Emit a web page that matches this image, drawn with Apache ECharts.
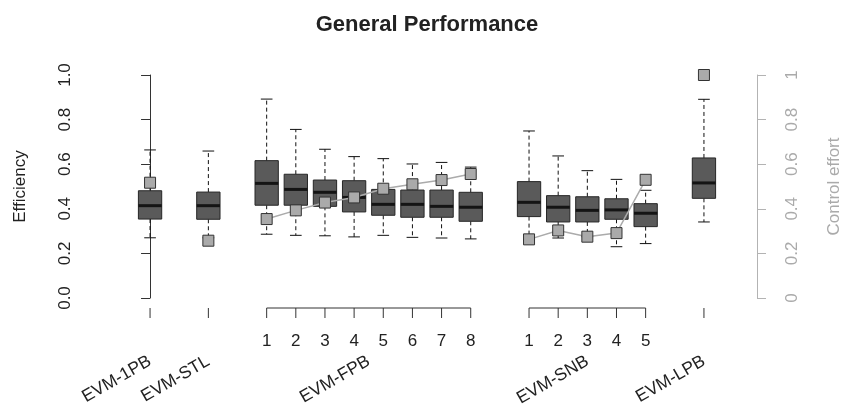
<!DOCTYPE html>
<html>
<head>
<meta charset="utf-8">
<script src="https://cdn.jsdelivr.net/npm/echarts@6/dist/echarts.min.js"></script>
<style>
html, body { margin: 0; padding: 0; background: #fff; }
#chart { width: 841px; height: 408px; }
</style>
</head>
<body>
<div id="chart"></div>
<script>
// groups, and how many boxes each one holds
const groupNames = ['EVM-1PB', 'EVM-STL', 'EVM-FPB', 'EVM-SNB', 'EVM-LPB']
const groupSizes = [1, 1, 8, 5, 1]

// box stats, one entry per box (1PB, STL, FPB1..8, SNB1..5, LPB)
const whiskerLow  = [0.270, 0.270, 0.286, 0.281, 0.279, 0.274, 0.281, 0.272, 0.269, 0.265, 0.260, 0.269, 0.275, 0.230, 0.244, 0.341]
const q1          = [0.354, 0.353, 0.416, 0.416, 0.411, 0.386, 0.371, 0.362, 0.362, 0.344, 0.365, 0.341, 0.341, 0.353, 0.320, 0.447]
const median      = [0.414, 0.414, 0.514, 0.487, 0.474, 0.451, 0.420, 0.420, 0.411, 0.407, 0.429, 0.407, 0.393, 0.395, 0.380, 0.516]
const q3          = [0.481, 0.475, 0.616, 0.555, 0.529, 0.526, 0.487, 0.484, 0.484, 0.474, 0.522, 0.459, 0.454, 0.445, 0.423, 0.628]
const whiskerHigh = [0.664, 0.659, 0.892, 0.756, 0.667, 0.634, 0.625, 0.601, 0.608, 0.587, 0.749, 0.637, 0.571, 0.532, 0.483, 0.891]

// control effort (right axis), one per box
const controlEffort = [0.517, 0.257, 0.354, 0.393, 0.428, 0.451, 0.490, 0.510, 0.529, 0.556, 0.263, 0.303, 0.275, 0.291, 0.530, 1.0]

const font = 'Liberation Sans, Arial, sans-serif'
const fs = 17

// lay the groups out one after another, one empty slot between groups
const slotOf = []
const groupSlots = []
let s = 0
groupSizes.forEach(n => {
    const g = []
    for (let i = 0; i < n; i++) { g.push(s); slotOf.push(s); s++ }
    groupSlots.push(g)
    s++
})
const lastSlot = slotOf[slotOf.length - 1]

const boxData = slotOf.map((x, i) => [x, whiskerLow[i], q1[i], median[i], q3[i], whiskerHigh[i]])
const effortData = slotOf.map((x, i) => [x, controlEffort[i]])

//箱线
function renderBox(params, api) {
    const x = api.value(0)
    const low = api.coord([x, api.value(1)])
    const b = api.coord([x, api.value(2)])
    const m = api.coord([x, api.value(3)])
    const t = api.coord([x, api.value(4)])
    const high = api.coord([x, api.value(5)])
    const w = api.size([0.8, 0])[0]
    const cx = low[0]
    const dash = { stroke: '#111', lineWidth: 1, lineDash: [4, 3] }
    const solid = { stroke: '#111', lineWidth: 1 }
    return {
        type: 'group',
        children: [
            { type: 'line', shape: { x1: cx, y1: t[1], x2: cx, y2: high[1] }, style: dash },
            { type: 'line', shape: { x1: cx, y1: b[1], x2: cx, y2: low[1] }, style: dash },
            { type: 'line', shape: { x1: cx - w / 4, y1: high[1], x2: cx + w / 4, y2: high[1] }, style: solid },
            { type: 'line', shape: { x1: cx - w / 4, y1: low[1], x2: cx + w / 4, y2: low[1] }, style: solid },
            { type: 'rect', shape: { x: cx - w / 2, y: t[1], width: w, height: b[1] - t[1] },
              style: { fill: '#5a5a5a', stroke: '#262626', lineWidth: 1 } },
            { type: 'line', shape: { x1: cx - w / 2, y1: m[1], x2: cx + w / 2, y2: m[1] },
              style: { stroke: '#141414', lineWidth: 3 } }
        ]
    }
}

//x轴下方的刻度、编号和组名
function renderGroupAxis(params, api) {
    const gi = api.value(0)
    const slots = groupSlots[gi]
    const y0 = api.coord([0, 0])[1]
    const first = api.coord([slots[0], 0])[0]
    const last = api.coord([slots[slots.length - 1], 0])[0]
    const mid = (first + last) / 2
    const line = { stroke: '#333', lineWidth: 1 }
    const children = []
    if (slots.length > 1) {
        children.push({ type: 'line', shape: { x1: first, y1: y0 + 10, x2: last, y2: y0 + 10 }, style: line })
        slots.forEach((sl, k) => {
            const px = api.coord([sl, 0])[0]
            children.push({ type: 'line', shape: { x1: px, y1: y0 + 10, x2: px, y2: y0 + 20 }, style: line })
            children.push({ type: 'text', x: px, y: y0 + 43,
                style: { text: String(k + 1), align: 'center', verticalAlign: 'middle', fontSize: fs, fontFamily: font, fill: '#222' } })
        })
    } else {
        children.push({ type: 'line', shape: { x1: first, y1: y0 + 10, x2: first, y2: y0 + 20 }, style: line })
    }
    children.push({ type: 'text', x: mid, y: y0 + 62, rotation: 30 * Math.PI / 180,
        style: { text: groupNames[gi], align: 'right', verticalAlign: 'middle', fontSize: 17.5, fontFamily: font, fill: '#222' } })
    return { type: 'group', children }
}

const lineSeries = groupSlots
    .map(g => g.length > 1 ? g.map(sl => [sl, controlEffort[slotOf.indexOf(sl)]]) : null)
    .filter(d => d)
    .map(d => ({
        type: 'line', yAxisIndex: 1, data: d, showSymbol: false, silent: true, z: 3,
        lineStyle: { color: '#ababab', width: 1.5 }
    }))

const option = {
    backgroundColor: '#fff',
    animation: false,
    textStyle: { fontFamily: font },
    title: {
        text: 'General Performance',
        left: 422, top: 9, textAlign: 'center',
        textStyle: { fontSize: 22, fontWeight: 'bold', color: '#222', fontFamily: font }
    },
    grid: { left: 97, right: 84, top: 75, bottom: 110, containLabel: false, outerBoundsMode: 'none' },
    xAxis: { type: 'value', min: -1.82, max: lastSlot + 1.82, show: false },
    yAxis: [
        {
            type: 'value', min: 0, max: 1, interval: 0.2, position: 'left',
            name: 'Efficiency', nameLocation: 'middle', nameGap: 68, nameRotate: 90,
            nameTextStyle: { fontSize: fs, color: '#222', fontFamily: font },
            axisLine: { show: true, lineStyle: { color: '#333', width: 1 } },
            axisTick: { show: true, length: 9, lineStyle: { color: '#333' } },
            axisLabel: { rotate: 90, margin: 23, fontSize: fs, color: '#222', fontFamily: font,
                formatter: v => v.toFixed(1) },
            splitLine: { show: false }
        },
        {
            type: 'value', min: 0, max: 1, interval: 0.2, position: 'right',
            name: 'Control effort', nameLocation: 'middle', nameGap: 69, nameRotate: 90,
            nameTextStyle: { fontSize: fs, color: '#aaa', fontFamily: font },
            axisLine: { show: true, lineStyle: { color: '#b3b3b3', width: 1 } },
            axisTick: { show: true, length: 9, lineStyle: { color: '#b3b3b3' } },
            axisLabel: { rotate: 90, margin: 27, fontSize: fs, color: '#aaa', fontFamily: font,
                formatter: v => String(+v.toFixed(1)) },
            splitLine: { show: false }
        }
    ],
    series: [
        { type: 'custom', renderItem: renderBox, data: boxData, clip: false, silent: true, z: 2,
          encode: { x: 0, y: [1, 2, 3, 4, 5] } },
        ...lineSeries,
        { type: 'scatter', yAxisIndex: 1, data: effortData, symbol: 'rect', symbolSize: 11, clip: false, z: 4,
          itemStyle: { color: '#aaaaaa', borderColor: '#333', borderWidth: 1, opacity: 1 } },
        { type: 'custom', renderItem: renderGroupAxis, data: groupNames.map((_, i) => [i]), clip: false, silent: true,
          encode: { x: -1, y: -1 } }
    ]
}

const chart = echarts.init(document.getElementById('chart'))
chart.setOption(option)
</script>
</body>
</html>
